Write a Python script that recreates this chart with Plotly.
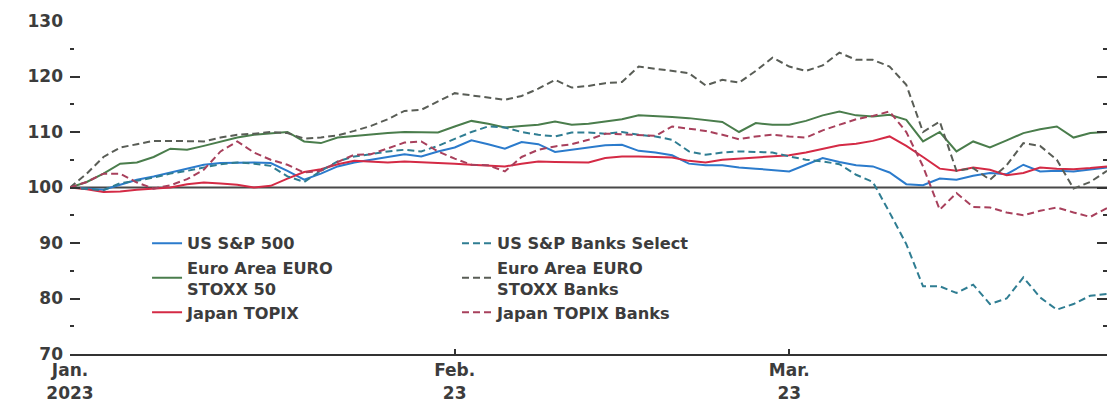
import plotly.graph_objects as go

dates = [
    "2022-12-30",
    "2023-01-02", "2023-01-03", "2023-01-04", "2023-01-05", "2023-01-06",
    "2023-01-09", "2023-01-10", "2023-01-11", "2023-01-12", "2023-01-13",
    "2023-01-16", "2023-01-17", "2023-01-18", "2023-01-19", "2023-01-20",
    "2023-01-23", "2023-01-24", "2023-01-25", "2023-01-26", "2023-01-27",
    "2023-01-30", "2023-01-31",
    "2023-02-01", "2023-02-02", "2023-02-03",
    "2023-02-06", "2023-02-07", "2023-02-08", "2023-02-09", "2023-02-10",
    "2023-02-13", "2023-02-14", "2023-02-15", "2023-02-16", "2023-02-17",
    "2023-02-20", "2023-02-21", "2023-02-22", "2023-02-23", "2023-02-24",
    "2023-02-27", "2023-02-28",
    "2023-03-01", "2023-03-02", "2023-03-03",
    "2023-03-06", "2023-03-07", "2023-03-08", "2023-03-09", "2023-03-10",
    "2023-03-13", "2023-03-14", "2023-03-15", "2023-03-16", "2023-03-17",
    "2023-03-20", "2023-03-21", "2023-03-22", "2023-03-23", "2023-03-24",
    "2023-03-27", "2023-03-28",
]

us_sp500 = [100, 99.8, 99.6, 100.5, 101.4, 102, 102.7, 103.5, 104.1, 104.4,
            104.5, 104.5, 104.4, 103, 101.4, 102.5, 103.8, 104.5, 105, 105.5,
            106, 105.6, 106.5, 107.2, 108.5, 107.8, 107, 108.2, 107.8, 106.4,
            106.8, 107.3, 107.6, 107.7, 106.6, 106.3, 105.8, 104.3, 104, 104,
            103.6, 103.4, 103.1, 102.9, 104.1, 105.3, 104.6, 104, 103.8, 102.7,
            100.6, 100.4, 101.6, 101.4, 102.1, 102.6, 102.4, 104.1, 102.9, 103,
            102.9, 103.3, 103.6]

us_banks = [100, 99.8, 99.5, 100.8, 101.2, 101.8, 102.5, 103, 103.6, 104.2,
            104.5, 104.3, 103.9, 102, 101, 103, 104.7, 105.6, 106, 106.5,
            106.8, 106.5, 107.5, 108.8, 110, 111, 110.8, 110, 109.5, 109.2,
            109.9, 109.9, 109.7, 110, 109.5, 109.2, 108.6, 106.5, 105.9, 106.3,
            106.5, 106.4, 106.3, 105.6, 105, 104.7, 104.2, 102.3, 101, 95.5,
            89.8, 82.2, 82.2, 81, 82.5, 79, 80, 83.8, 80.2, 78,
            79, 80.5, 80.8]

euro_stoxx50 = [100, 101, 102.5, 104.3, 104.5, 105.5, 107, 106.8, 107.5, 108.3,
                109, 109.5, 109.8, 110, 108.3, 108, 109, 109.3, 109.5, 109.8,
                110, 110, 109.9, 111, 112, 111.5, 110.8, 111.1, 111.3, 111.9,
                111.3, 111.5, 111.9, 112.3, 113, 112.9, 112.7, 112.5, 112.2, 111.8,
                110, 111.6, 111.3, 111.3, 112, 113, 113.7, 113, 112.8, 113.1,
                112.2, 108.3, 110, 106.5, 108.3, 107.2, 108.5, 109.8, 110.5, 111,
                109, 109.8, 110]

euro_banks = [100, 102.5, 105.5, 107.2, 107.8, 108.4, 108.4, 108.3, 108.3, 109,
              109.5, 109.7, 110, 109.8, 108.8, 109, 109.4, 110.2, 111.1, 112.3,
              113.8, 114, 115.5, 117, 116.6, 116.2, 115.8, 116.5, 117.8, 119.4,
              118, 118.3, 118.8, 119, 121.8, 121.4, 121, 120.6, 118.4, 119.4,
              118.9, 121, 123.4, 121.8, 121, 122, 124.3, 123, 123, 121.8,
              118.5, 110, 111.9, 103, 103.5, 101.4, 104, 108, 107.5, 105,
              99.8, 101, 103]

japan_topix = [100, 99.7, 99.2, 99.3, 99.6, 99.8, 100, 100.6, 100.9, 100.7,
               100.5, 100, 100.3, 101.6, 102.8, 103.3, 104.2, 104.8, 104.6, 104.5,
               104.7, 104.6, 104.5, 104.3, 104.1, 103.9, 103.8, 104.3, 104.7, 104.6,
               104.5, 104.5, 105.3, 105.6, 105.6, 105.5, 105.4, 104.8, 104.5, 105,
               105.2, 105.5, 105.6, 105.8, 106.3, 107, 107.6, 107.9, 108.4, 109.2,
               107.5, 105.5, 103.4, 103, 103.6, 103.2, 102.2, 102.6, 103.6, 103.4,
               103.3, 103.5, 103.8]

japan_banks = [100, 101, 102.5, 102.5, 100.9, 99.8, 100.4, 101.5, 103.2, 106.5,
               108.3, 106.3, 105, 104.1, 102.7, 103, 104.6, 105.9, 106, 107,
               108.1, 108.3, 106.5, 105.2, 104.1, 104, 102.9, 105.5, 106.8, 107.4,
               107.8, 108.6, 109.7, 109.6, 109.4, 109.3, 111, 110.6, 110.2, 109.5,
               108.7, 109.2, 109.5, 109.2, 109, 110.3, 111.3, 112.3, 112.9, 113.7,
               110, 103.8, 96, 99, 96.5, 96.4, 95.5, 95, 95.8, 96.4,
               95.5, 94.7, 96.3]

tick_dates = ["2022-12-30", "2023-02-01", "2023-03-01", "2023-03-28"]
tick_text = ["Jan.<br>2023", "Feb.<br>23", "Mar.<br>23", ""]

dash_style = "7px,4px"
series = [
    ("US S&P 500", us_sp500, "#2b7bcc", "solid", "legend"),
    ("Euro Area EURO<br>STOXX 50", euro_stoxx50, "#4a7d4c", "solid", "legend"),
    ("Japan TOPIX", japan_topix, "#d42a45", "solid", "legend"),
    ("US S&P Banks Select", us_banks, "#2f7d92", dash_style, "legend2"),
    ("Euro Area EURO<br>STOXX Banks", euro_banks, "#595d56", dash_style, "legend2"),
    ("Japan TOPIX Banks", japan_banks, "#a8405c", dash_style, "legend2"),
]

fig = go.Figure()
for name, vals, color, dash, leg in series:
    fig.add_trace(go.Scatter(
        x=dates, y=vals, mode="lines", name=name, legend=leg,
        line=dict(color=color, width=2, dash=dash),
    ))

fig.add_shape(type="line", xref="paper", yref="y", x0=0, x1=1, y0=100, y1=100,
              line=dict(color="#484848", width=1.8), layer="below")

font_family = "DejaVu Sans, Liberation Sans, Arial, sans-serif"
text_color = "#3c3c3c"
legend_common = dict(
    orientation="v", yanchor="top", xanchor="left",
    bgcolor="rgba(0,0,0,0)",
    font=dict(family=font_family, size=16.2, color=text_color, weight="bold"),
    valign="middle", tracegroupgap=0, itemwidth=30,
)
y_ticks = dict(
    range=[70, 130], tickmode="linear", tick0=70, dtick=10,
    ticks="inside", ticklen=10, tickwidth=2, tickcolor="#333333",
    minor=dict(ticks="inside", ticklen=4, tickwidth=2, dtick=5, tick0=70, tickcolor="#333333"),
    showline=False, showgrid=False, zeroline=False, automargin=False,
)
# the page adds an 8px body margin, so the figure is sized 8px smaller
fig.update_layout(
    width=1111, height=395,
    margin=dict(l=62, r=12, t=13, b=49, autoexpand=False),
    paper_bgcolor="white", plot_bgcolor="white",
    font=dict(family=font_family, size=17, color=text_color, weight="bold"),
    showlegend=True,
    legend=dict(x=0.0743, y=0.384, **legend_common),
    legend2=dict(x=0.3732, y=0.384, **legend_common),
    xaxis=dict(
        type="category", range=[0, len(dates) - 1],
        tickmode="array", tickvals=tick_dates, ticktext=tick_text,
        ticks="inside", ticklen=5, tickwidth=2, tickcolor="#333333",
        showline=True, linecolor="#333333", linewidth=2,
        showgrid=False, zeroline=False, tickangle=0, automargin=False,
    ),
    yaxis=dict(mirror="ticks", ticklabelstandoff=6, **y_ticks),
    yaxis2=dict(overlaying="y", side="right", anchor="x", showticklabels=False, **y_ticks),
)

fig.write_html("out.html")
